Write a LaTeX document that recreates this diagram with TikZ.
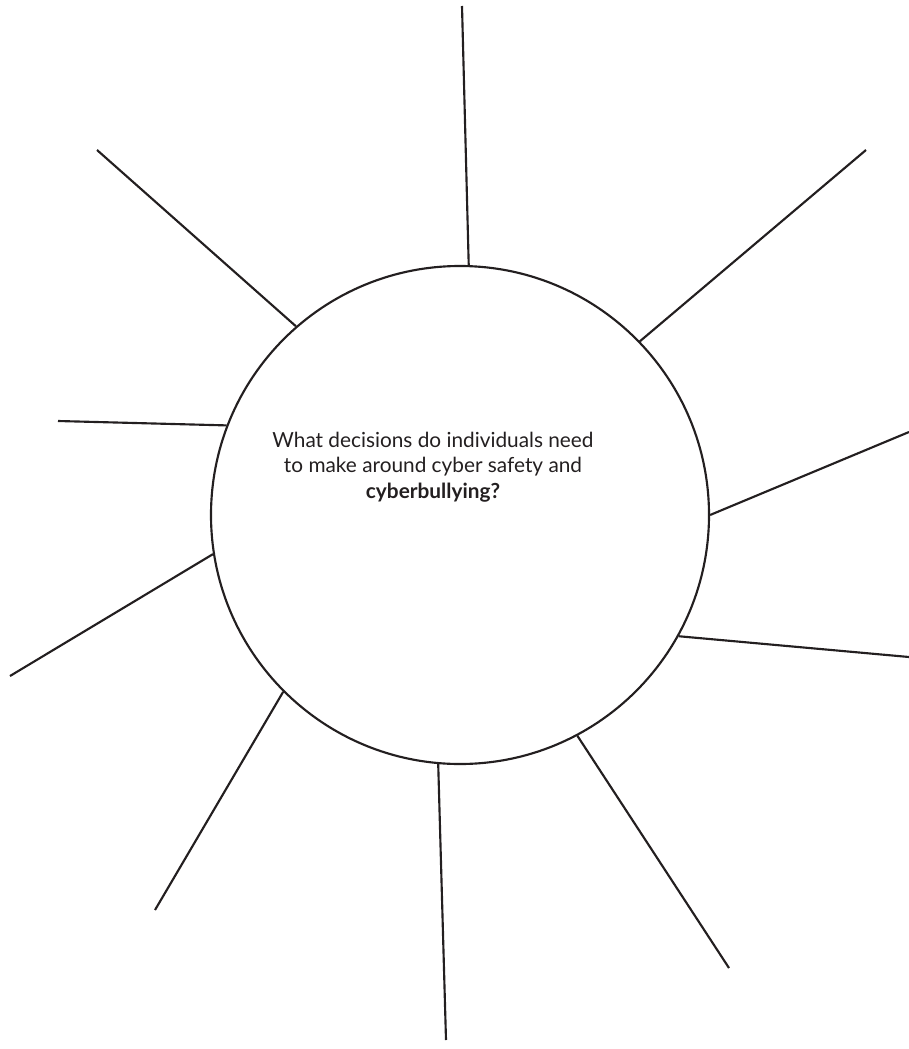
\documentclass[tikz,border=0pt]{standalone}
\usepackage{fontspec}
\setmainfont{Lato}
\usepackage{tikz}
\usetikzlibrary{calc}
\definecolor{inkdark}{HTML}{231F20}

\begin{document}
\begin{tikzpicture}[
    x=0.75pt, y=-0.75pt,
    hub/.style={circle, draw=inkdark, line width=1.6pt, minimum size=373.5pt, inner sep=0pt},
    spoke/.style={draw=inkdark, line width=1.6pt},
    question/.style={align=center, text=inkdark, font=\fontsize{15.6}{19.2}\selectfont}
]
\useasboundingbox (0,0) rectangle (909,1049);
\node[hub] (hub) at (460,515) {};
\node[question] (q) at (433,467)
    {What decisions do individuals need\\to make around cyber safety and\\\textbf{cyberbullying?}};
% spokes: anchor angle on the circle / outer end
\foreach \a/\x/\y [count=\i] in {88.6/462/6, 44.7/866/150, 0.9/909/432, -29.2/909/657,
    -62.4/729/968, 265.8/446/1040, 225/155/910, 189.5/10/676, 159.7/58/421, 131.7/97/150}
{
    \coordinate (end\i) at (\x,\y);
    \draw[spoke] (hub.\a) -- (end\i);
}
\end{tikzpicture}
\end{document}
